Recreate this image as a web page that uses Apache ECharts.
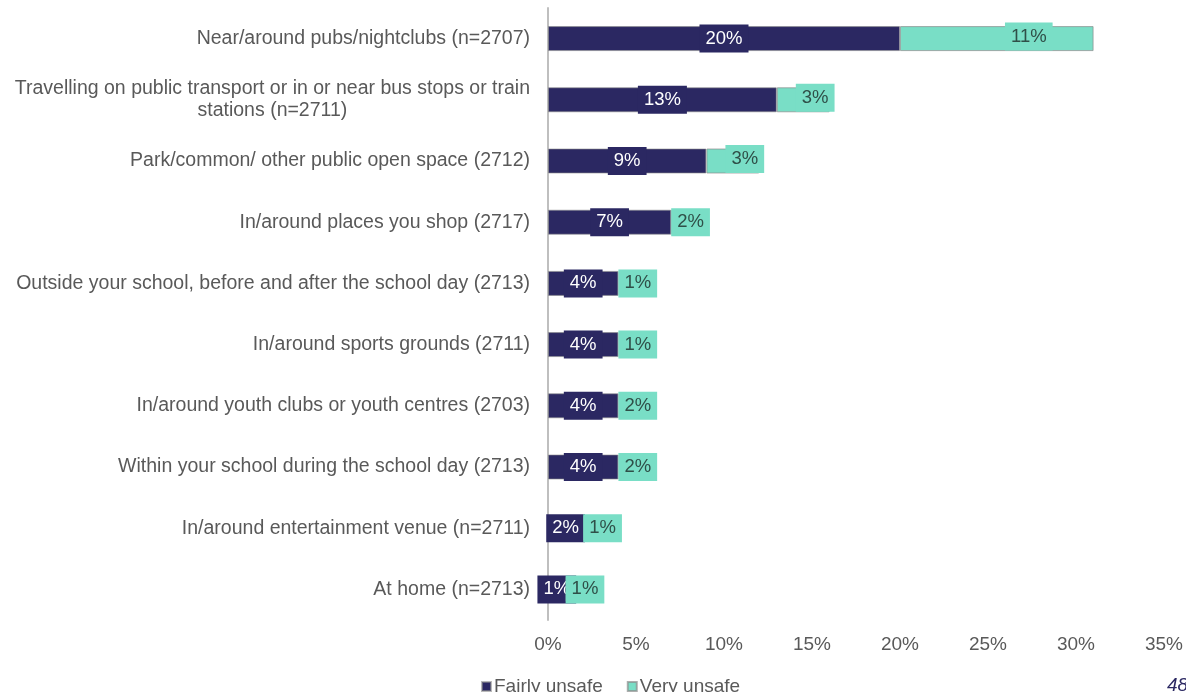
<!DOCTYPE html>
<html>
<head>
<meta charset="utf-8">
<script src="https://cdn.jsdelivr.net/npm/echarts@6/dist/echarts.min.js"></script>
<style>
  html, body { margin: 0; padding: 0; background: #fff; }
  #chart { width: 1186px; height: 692px; }
</style>
</head>
<body>
<div id="chart"></div>
<script>
// Places where respondents feel unsafe (top to bottom)
const categories = [
  'Near/around pubs/nightclubs (n=2707)',
  'Travelling on public transport or in or near bus stops or train\nstations (n=2711)',
  'Park/common/ other public open space (2712)',
  'In/around places you shop (2717)',
  'Outside your school, before and after the school day (2713)',
  'In/around sports grounds (2711)',
  'In/around youth clubs or youth centres (2703)',
  'Within your school during the school day (2713)',
  'In/around entertainment venue (n=2711)',
  'At home (n=2713)'
];
const fairlyUnsafe = [20, 13, 9, 7, 4, 4, 4, 4, 2, 1];
const veryUnsafe   = [11, 3, 3, 2, 1, 1, 2, 2, 1, 1];
const xTicks = [0, 5, 10, 15, 20, 25, 30, 35];

const NAVY = '#2b2862';
const TEAL = '#79dec6';
const GREY = '#595959';
const FONT = '"Liberation Sans", Arial, sans-serif';

const chart = echarts.init(document.getElementById('chart'));

const labelBox = (bg, color) => ({
  show: true,
  formatter: '{c}%',
  color: color,
  fontFamily: FONT,
  fontSize: 18.5,
  backgroundColor: bg,
  padding: [5, 6, 4, 6]
});

chart.setOption({
  animation: false,
  textStyle: { fontFamily: FONT },
  grid: { left: 548, right: 22, top: 8, bottom: 72, containLabel: false },
  legend: {
    bottom: -9,
    left: 476,
    itemWidth: 9,
    itemHeight: 9,
    itemGap: 24,
    icon: 'rect',
    textStyle: { color: GREY, fontSize: 19, fontFamily: FONT, padding: [0, 0, 0, -2] },
    data: ['Fairly unsafe', 'Very unsafe']
  },
  xAxis: {
    type: 'value',
    min: xTicks[0],
    max: xTicks[xTicks.length - 1],
    interval: 5,
    axisLine: { show: false },
    axisTick: { show: false },
    splitLine: { show: false },
    axisLabel: {
      color: GREY, fontSize: 19, fontFamily: FONT, margin: 15,
      formatter: v => v + '%'
    }
  },
  yAxis: {
    type: 'category',
    inverse: true,
    data: categories,
    axisLine: { show: true, lineStyle: { color: '#bfbfbf', width: 2 } },
    axisTick: { show: false },
    axisLabel: {
      color: GREY, fontSize: 19.5, fontFamily: FONT, margin: 18,
      lineHeight: 22,
      formatter: v => v.split('\n').map(s => '{c|' + s + '}').join('\n'),
      rich: { c: { align: 'center', color: GREY, fontSize: 19.5, fontFamily: FONT, lineHeight: 22 } }
    }
  },
  series: [
    {
      name: 'Fairly unsafe',
      type: 'bar',
      stack: 'all',
      barWidth: 25,
      z: 2,
      data: fairlyUnsafe,
      itemStyle: { color: NAVY, borderColor: 'rgba(140,140,140,0.6)', borderWidth: 1 },
      label: Object.assign(labelBox(NAVY, '#ffffff'), { position: 'inside' })
    },
    {
      name: 'Very unsafe',
      type: 'bar',
      stack: 'all',
      barWidth: 25,
      z: 3,
      data: veryUnsafe.map(v => ({
        value: v,
        label: v >= 3
          ? { position: 'inside', offset: [v > 5 ? 32 : 12, -2] }
          : { position: 'insideLeft', distance: 0 }
      })),
      itemStyle: { color: TEAL, borderColor: 'rgba(140,140,140,0.7)', borderWidth: 1 },
      label: labelBox(TEAL, '#2f4f48')
    }
  ],
  graphic: [
    {
      type: 'text',
      left: 1167,
      top: 676,
      style: { text: '48', fill: NAVY, font: 'italic 19px ' + FONT }
    }
  ]
});
</script>
</body>
</html>
